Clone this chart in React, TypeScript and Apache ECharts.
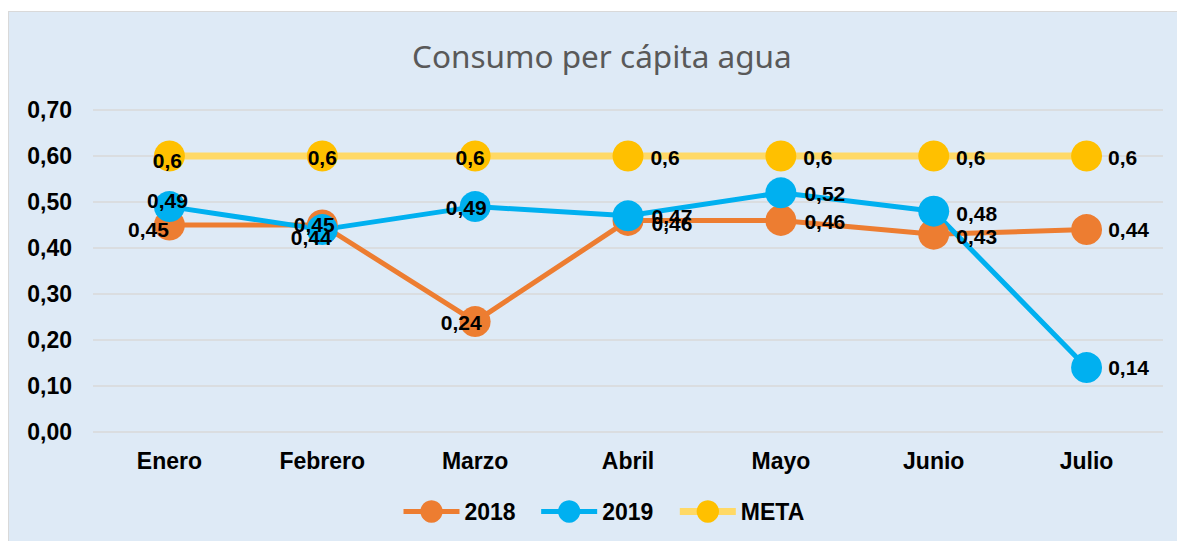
import React, { useEffect, useRef } from "react";
import * as echarts from "echarts";

const categories = ["Enero", "Febrero", "Marzo", "Abril", "Mayo", "Junio", "Julio"];
const values2018 = [0.45, 0.45, 0.24, 0.46, 0.46, 0.43, 0.44];
const values2019 = [0.49, 0.44, 0.49, 0.47, 0.52, 0.48, 0.14];
const valuesMeta = [0.6, 0.6, 0.6, 0.6, 0.6, 0.6, 0.6];
const yTicks = { min: 0, max: 0.7, interval: 0.1 };

// label offsets from the point centre [dx, dy]
const off2018 = [[-21, 4], [-8, -1], [-14, 1], [44, 3], [44, 1], [43, 2], [42, 0]];
const off2019 = [[-2, -6], [-11, 8], [-9, 1], [44, 1], [44, 1], [43, 2], [42, 0]];
const offMeta = [[-2, 4], [0, 1], [-5, 1], [37, 1], [37, 1], [37, 1], [36, 1]];

const fmt = (v: number) => String(v).replace(".", ",");

function build(values: number[], off: number[][]) {
  return values.map((v, i) => ({
    value: v,
    label: { position: "inside", offset: off[i] },
  }));
}

export default function App() {
  const ref = useRef<HTMLDivElement>(null);
  useEffect(() => {
    if (!ref.current) return;
    document.body.style.overflow = "hidden";
    const chart = echarts.init(ref.current, undefined, { renderer: "svg" });
    const font = "Liberation Sans, Arial, sans-serif";
    const labelBase = {
      show: true,
      color: "#000",
      fontSize: 21,
      fontWeight: "bold" as const,
      fontFamily: font,
      formatter: (p: any) => fmt(p.value),
    };
    chart.setOption({
      animation: false,
      backgroundColor: "#DEEAF6",
      textStyle: { fontFamily: font },
      title: {
        text: "Consumo per cápita agua",
        left: 398,
        top: 22,
        textStyle: { color: "#595959", fontSize: 31.5, fontWeight: "normal", fontFamily: "Noto Sans, Open Sans, sans-serif" },
      },
      legend: {
        top: 483,
        left: 387,
        itemWidth: 56,
        itemHeight: 28,
        itemGap: 23,
        textStyle: { fontSize: 23, fontWeight: "bold", color: "#000", fontFamily: font },
        data: [
          { name: "2018", lineStyle: { width: 5 } },
          { name: "2019", lineStyle: { width: 5 } },
          { name: "META", lineStyle: { width: 7 } },
        ],
      },
      grid: { left: 84, right: 14, top: 98, bottom: 109, containLabel: false },
      xAxis: {
        type: "category",
        data: categories,
        boundaryGap: true,
        axisLine: { show: false },
        axisTick: { show: false },
        axisLabel: { color: "#000", fontSize: 23, fontWeight: "bold", margin: 17, fontFamily: font },
      },
      yAxis: {
        type: "value",
        min: yTicks.min,
        max: yTicks.max,
        interval: yTicks.interval,
        axisLine: { show: false },
        axisTick: { show: false },
        splitLine: { lineStyle: { color: "#D9D9D9", width: 1.5 } },
        axisLabel: {
          color: "#000", fontSize: 23, fontWeight: "bold", margin: 21, fontFamily: font,
          formatter: (v: number) => v.toFixed(2).replace(".", ","),
        },
      },
      series: [
        {
          name: "META",
          type: "line",
          data: build(valuesMeta, offMeta),
          symbol: "circle",
          symbolSize: 31,
          itemStyle: { color: "#FFC000" },
          lineStyle: { color: "#FFD966", width: 7 },
          label: labelBase,
        },
        {
          name: "2018",
          type: "line",
          data: build(values2018, off2018),
          symbol: "circle",
          symbolSize: 31,
          itemStyle: { color: "#ED7D31" },
          lineStyle: { color: "#ED7D31", width: 5 },
          label: labelBase,
        },
        {
          name: "2019",
          type: "line",
          data: build(values2019, off2019),
          symbol: "circle",
          symbolSize: 31,
          itemStyle: { color: "#00B0F0" },
          lineStyle: { color: "#00B0F0", width: 5 },
          label: labelBase,
        },
      ],
    });
    return () => chart.dispose();
  }, []);
  return (
    <div
      ref={ref}
      style={{
        position: "absolute",
        left: 8,
        top: 11,
        width: 1169,
        height: 530,
        borderLeft: "1px solid #D9D9D9",
        borderTop: "1px solid #D9D9D9",
        boxSizing: "border-box",
      }}
    />
  );
}
